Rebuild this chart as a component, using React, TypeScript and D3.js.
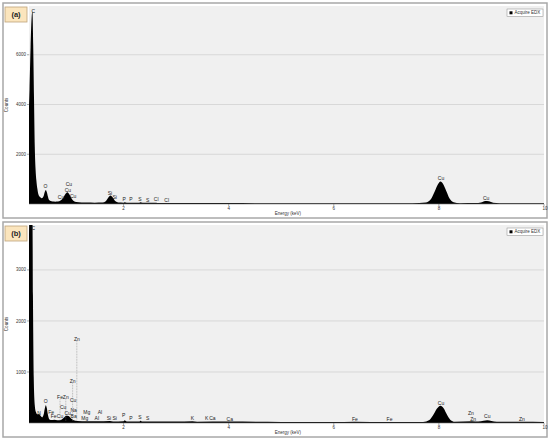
import React, { useEffect, useRef } from 'react';
import * as d3 from 'd3';

// spectrum (a): [energy keV, counts]
const spectrumA: [number, number][] = [
  [0.19, 3300], [0.21, 4600], [0.23, 6300], [0.25, 7500], [0.265, 7750], [0.28, 6400],
  [0.295, 4300], [0.31, 2300], [0.325, 1400], [0.34, 950], [0.36, 600], [0.38, 380],
  [0.4, 300], [0.42, 260], [0.44, 230], [0.46, 250], [0.48, 330], [0.5, 480], [0.52, 560],
  [0.54, 470], [0.56, 300], [0.58, 170], [0.61, 120], [0.65, 100], [0.7, 95], [0.75, 100],
  [0.8, 140], [0.85, 240], [0.89, 390], [0.93, 470], [0.97, 380], [1.01, 220], [1.05, 120],
  [1.1, 80], [1.2, 65], [1.3, 60], [1.45, 55], [1.6, 60], [1.66, 110], [1.71, 260],
  [1.75, 340], [1.79, 270], [1.84, 120], [1.9, 60], [2.0, 55], [2.02, 70], [2.06, 50],
  [2.3, 55], [2.32, 75], [2.36, 50], [2.62, 55], [2.66, 45], [3.0, 45], [3.5, 40],
  [4.0, 38], [4.5, 35], [5.0, 33], [5.5, 32], [6.0, 32], [6.4, 33], [7.0, 32], [7.5, 35],
  [7.75, 60], [7.85, 200], [7.92, 500], [7.98, 780], [8.03, 900], [8.08, 800], [8.14, 520],
  [8.2, 230], [8.28, 70], [8.4, 35], [8.7, 38], [8.8, 60], [8.88, 120], [8.95, 110],
  [9.03, 55], [9.15, 35], [9.6, 30], [10.0, 28],
];

// spectrum (b)
const spectrumB: [number, number][] = [
  [0.19, 2800], [0.21, 4400], [0.235, 5200], [0.26, 4900], [0.275, 2500], [0.29, 900],
  [0.31, 350], [0.33, 220], [0.36, 170], [0.39, 175], [0.42, 140], [0.45, 110],
  [0.48, 170], [0.5, 280], [0.52, 350], [0.54, 290], [0.56, 160], [0.59, 70], [0.63, 60],
  [0.68, 65], [0.74, 55], [0.8, 60], [0.86, 100], [0.91, 140], [0.95, 135], [1.0, 90],
  [1.05, 55], [1.12, 40], [1.3, 35], [1.5, 32], [1.74, 40], [1.8, 30], [2.0, 35],
  [2.02, 55], [2.06, 30], [2.3, 30], [2.32, 45], [2.36, 28], [3.0, 28], [3.31, 35],
  [3.4, 26], [4.0, 28], [5.0, 22], [6.0, 20], [6.4, 25], [7.0, 20], [7.7, 22],
  [7.82, 60], [7.9, 170], [7.96, 280], [8.03, 340], [8.09, 290], [8.15, 170], [8.22, 60],
  [8.3, 25], [8.63, 35], [8.75, 30], [8.85, 45], [8.92, 55], [9.0, 40], [9.1, 25],
  [9.57, 25], [10.0, 20],
];

type Peak = { el: string; e: number; c: number; lead?: boolean };

const peaksA: Peak[] = [
  { el: 'C', e: 0.28, c: 7750 },
  { el: 'O', e: 0.513, c: 720 },
  { el: 'Cu', e: 0.81, c: 280 },
  { el: 'Cu', e: 0.96, c: 800 },
  { el: 'Cu', e: 0.94, c: 560 },
  { el: 'Cu', e: 1.04, c: 320 },
  { el: 'Si', e: 1.74, c: 440 },
  { el: 'Si', e: 1.83, c: 280 },
  { el: 'P', e: 2.01, c: 200 },
  { el: 'P', e: 2.14, c: 200 },
  { el: 'S', e: 2.31, c: 200 },
  { el: 'S', e: 2.46, c: 160 },
  { el: 'Cl', e: 2.62, c: 200 },
  { el: 'Cl', e: 2.82, c: 160 },
  { el: 'Cu', e: 8.04, c: 1040 },
  { el: 'Cu', e: 8.9, c: 240 },
];

const peaksB: Peak[] = [
  { el: 'C', e: 0.28, c: 3820 },
  { el: 'N', e: 0.39, c: 195 },
  { el: 'O', e: 0.52, c: 420 },
  { el: 'Fe', e: 0.62, c: 220 },
  { el: 'Fe', e: 0.67, c: 125 },
  { el: 'Cu', e: 0.79, c: 125 },
  { el: 'Fe', e: 0.79, c: 510, lead: true },
  { el: 'Zn', e: 0.9, c: 510, lead: true },
  { el: 'Cu', e: 0.85, c: 300 },
  { el: 'Cu', e: 0.935, c: 200 },
  { el: 'Cu', e: 1.04, c: 450 },
  { el: 'Zn', e: 1.03, c: 825, lead: true },
  { el: 'Zn', e: 1.11, c: 1650, lead: true },
  { el: 'Na', e: 1.05, c: 255 },
  { el: 'Ba', e: 1.05, c: 125 },
  { el: 'Mg', e: 1.3, c: 215 },
  { el: 'Mg', e: 1.26, c: 100 },
  { el: 'Al', e: 1.55, c: 215 },
  { el: 'Al', e: 1.49, c: 100 },
  { el: 'Si', e: 1.72, c: 100 },
  { el: 'Si', e: 1.83, c: 100 },
  { el: 'P', e: 2.0, c: 145 },
  { el: 'P', e: 2.14, c: 100 },
  { el: 'S', e: 2.31, c: 120 },
  { el: 'S', e: 2.46, c: 100 },
  { el: 'K', e: 3.31, c: 100 },
  { el: 'K', e: 3.58, c: 100 },
  { el: 'Ca', e: 3.69, c: 100 },
  { el: 'Ca', e: 4.02, c: 80 },
  { el: 'Fe', e: 6.4, c: 80 },
  { el: 'Fe', e: 7.06, c: 80 },
  { el: 'Cu', e: 8.04, c: 390 },
  { el: 'Zn', e: 8.61, c: 195 },
  { el: 'Zn', e: 8.65, c: 80 },
  { el: 'Cu', e: 8.92, c: 135 },
  { el: 'Zn', e: 9.58, c: 80 },
];

const xTicks = [2, 4, 6, 8, 10];
const yTicksA = [2000, 4000, 6000];
const yTicksB = [1000, 2000, 3000];

const FONT = 'Liberation Sans, Arial, sans-serif';

const App = () => {
  const ref = useRef<SVGSVGElement | null>(null);

  useEffect(() => {
    const svg = d3.select(ref.current);
    svg.selectAll('*').remove();

    const panels = [
      { tag: '(a)', top: 3, data: spectrumA, peaks: peaksA, yMax: 7960, yTicks: yTicksA },
      { tag: '(b)', top: 222, data: spectrumB, peaks: peaksB, yMax: 3880, yTicks: yTicksB },
    ];

    panels.forEach((p, i) => {
      const g = svg.append('g');
      const plotTop = p.top + 3;
      const plotBottom = p.top + 201;
      const left = 29;
      const right = 544;

      // outer frame
      g.append('rect')
        .attr('x', 3).attr('y', p.top).attr('width', 544).attr('height', 215)
        .attr('fill', '#fff').attr('stroke', '#a8a8a8').attr('stroke-width', 1.5);

      g.append('rect')
        .attr('x', left).attr('y', plotTop)
        .attr('width', right - left).attr('height', plotBottom - plotTop)
        .attr('fill', '#f0f0f0');

      const x = d3.scaleLinear().domain([0.2, 10]).range([left, right]);
      const y = d3.scaleLinear().domain([0, p.yMax]).range([plotBottom, plotTop]);

      // grid + y ticks
      p.yTicks.forEach(t => {
        g.append('line')
          .attr('x1', left).attr('x2', right).attr('y1', y(t)).attr('y2', y(t))
          .attr('stroke', '#d2d2d2').attr('stroke-width', 0.8);
        g.append('line')
          .attr('x1', left - 2).attr('x2', left).attr('y1', y(t)).attr('y2', y(t))
          .attr('stroke', '#555').attr('stroke-width', 0.5);
        g.append('text')
          .attr('x', left - 3).attr('y', y(t)).attr('dy', '0.35em')
          .attr('text-anchor', 'end').attr('font-size', 4.5).attr('fill', '#333')
          .attr('font-family', FONT).text(t);
      });

      // x ticks
      xTicks.forEach(t => {
        g.append('line')
          .attr('x1', x(t)).attr('x2', x(t)).attr('y1', plotBottom).attr('y2', plotBottom + 2)
          .attr('stroke', '#555').attr('stroke-width', 0.5);
        g.append('text')
          .attr('x', x(t) + (t === 10 ? 1 : 0)).attr('y', plotBottom + 5.5)
          .attr('text-anchor', 'middle').attr('font-size', 4.5).attr('fill', '#333')
          .attr('font-family', FONT).text(t);
      });

      // spectrum
      g.append('clipPath').attr('id', `clip${i}`)
        .append('rect')
        .attr('x', left).attr('y', plotTop)
        .attr('width', right - left).attr('height', plotBottom - plotTop);

      const area = d3.area<[number, number]>()
        .x(d => x(d[0]))
        .y0(plotBottom)
        .y1(d => y(d[1]))
        .curve(d3.curveMonotoneX);

      g.append('path')
        .datum(p.data)
        .attr('clip-path', `url(#clip${i})`)
        .attr('d', area)
        .attr('fill', '#000');

      g.append('line')
        .attr('x1', left).attr('x2', right).attr('y1', plotBottom).attr('y2', plotBottom)
        .attr('stroke', '#777').attr('stroke-width', 0.6);

      // element markers
      p.peaks.forEach(pk => {
        if (pk.lead) {
          g.append('line')
            .attr('x1', x(pk.e)).attr('x2', x(pk.e))
            .attr('y1', y(pk.c) + 2.5).attr('y2', plotBottom - 2)
            .attr('stroke', '#777').attr('stroke-width', 0.5)
            .attr('stroke-dasharray', '0.8,0.8');
        }
        g.append('text')
          .attr('x', x(pk.e)).attr('y', y(pk.c)).attr('dy', '0.35em')
          .attr('text-anchor', 'middle').attr('font-size', 5).attr('fill', '#222')
          .attr('font-family', FONT).text(pk.el);
      });

      // axis titles
      g.append('text')
        .attr('transform', `translate(8, ${(plotTop + plotBottom) / 2}) rotate(-90)`)
        .attr('text-anchor', 'middle').attr('font-size', 4.5).attr('fill', '#333')
        .attr('font-family', FONT).text('Counts');
      g.append('text')
        .attr('x', 288).attr('y', plotBottom + 10.5)
        .attr('text-anchor', 'middle').attr('font-size', 4.5).attr('fill', '#333')
        .attr('font-family', FONT).text('Energy (keV)');

      // legend
      g.append('rect')
        .attr('x', 507).attr('y', plotTop + 3).attr('width', 36).attr('height', 7.5)
        .attr('fill', '#fff').attr('stroke', '#888').attr('stroke-width', 0.5);
      g.append('rect')
        .attr('x', 509.5).attr('y', plotTop + 5.3).attr('width', 3).attr('height', 3)
        .attr('fill', '#000');
      g.append('text')
        .attr('x', 514.5).attr('y', plotTop + 6.8).attr('dy', '0.35em')
        .attr('font-size', 4.5).attr('fill', '#333')
        .attr('font-family', FONT).text('Acquire EDX');

      // panel tag
      g.append('rect')
        .attr('x', 5).attr('y', plotTop + 1).attr('width', 22).attr('height', 15)
        .attr('fill', '#fbe5bd').attr('stroke', '#bfa47a').attr('stroke-width', 0.8);
      g.append('text')
        .attr('x', 16).attr('y', plotTop + 8.5).attr('dy', '0.35em')
        .attr('text-anchor', 'middle').attr('font-size', 7.5).attr('font-weight', 'bold')
        .attr('fill', '#222').attr('font-family', FONT).text(p.tag);
    });
  }, []);

  return (
    <div style={{ position: 'absolute', left: 0, top: 0 }}>
      <svg ref={ref} width={550} height={441} style={{ display: 'block', background: '#fff' }} />
    </div>
  );
};

export default App;
